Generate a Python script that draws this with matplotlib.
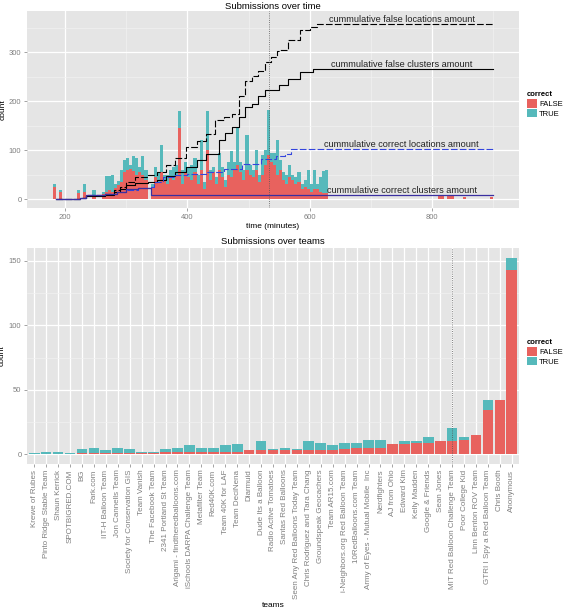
import numpy as np
import matplotlib
matplotlib.use("Agg")
import matplotlib.pyplot as plt
from matplotlib.patches import Patch

plt.rcParams['font.family'] = ['Liberation Sans', 'DejaVu Sans']

# --- time histogram (5 minute bins, left edges) ---
bin_start = [180, 185, 190, 195, 200, 205, 210, 215, 220, 225, 230, 235, 240, 245, 250, 255,
             260, 265, 270, 275, 280, 285, 290, 295, 300, 305, 310, 315, 320, 325, 330, 335,
             340, 345, 350, 355, 360, 365, 370, 375, 380, 385, 390, 395, 400, 405, 410, 415,
             420, 425, 430, 435, 440, 445, 450, 455, 460, 465, 470, 475, 480, 485, 490, 495,
             500, 505, 510, 515, 520, 525, 530, 535, 540, 545, 550, 555, 560, 565, 570, 575,
             580, 585, 590, 595, 600, 605, 610, 615, 620, 625,
             810, 815, 825, 830, 850, 895]
bin_false = [25, 0, 15, 0, 0, 0, 0, 0, 12, 0, 15, 0, 0, 5, 0, 0,
             10, 15, 18, 15, 22, 28, 35, 55, 60, 62, 58, 50, 55, 50, 40, 0,
             25, 45, 35, 55, 40, 30, 45, 40, 50, 145, 30, 55, 45, 40, 55, 30,
             60, 20, 100, 40, 55, 30, 60, 45, 25, 50, 45, 60, 70, 55, 40, 60,
             50, 45, 60, 35, 50, 70, 90, 75, 70, 50, 60, 40, 30, 45, 40, 30,
             35, 20, 25, 20, 15, 20, 20, 15, 12, 12,
             7, 7, 7, 7, 5, 5]
bin_true = [5, 0, 4, 0, 0, 0, 0, 0, 6, 0, 15, 0, 0, 14, 0, 0,
            4, 33, 30, 34, 8, 10, 25, 25, 25, 8, 30, 35, 10, 38, 20, 0,
            5, 20, 20, 55, 10, 20, 15, 25, 20, 35, 30, 20, 20, 30, 30, 20,
            60, 15, 80, 20, 10, 15, 35, 20, 15, 25, 54, 15, 75, 20, 20, 70,
            20, 15, 40, 15, 40, 30, 92, 20, 25, 70, 20, 15, 20, 25, 10, 15,
            20, 10, 15, 40, 15, 40, 10, 30, 45, 48,
            1, 1, 1, 1, 0, 0]

# --- cumulative curves ---
false_loc_t = [185, 225, 235, 265, 280, 290, 300, 315, 335, 350, 365, 380, 398, 415, 430, 446,
               460, 473, 485, 495, 506, 515, 527, 537, 546, 551, 565, 584, 600, 612, 900]
false_loc_v = [0, 3, 8, 10, 18, 25, 36, 45, 50, 55, 70, 85, 107, 118, 133, 161,
               168, 174, 210, 242, 252, 262, 279, 290, 302, 305, 325, 345, 352, 358, 358]
false_clu_t = [185, 225, 235, 265, 280, 290, 300, 315, 335, 350, 365, 380, 398, 415, 430, 451,
               462, 473, 485, 495, 506, 515, 527, 549, 565, 584, 606, 900]
false_clu_v = [0, 2, 6, 8, 14, 20, 28, 33, 36, 40, 48, 55, 66, 80, 93, 120,
               135, 147, 168, 188, 195, 210, 222, 232, 245, 260, 266, 266]
corr_loc_t = [185, 225, 235, 265, 285, 300, 320, 340, 345, 360, 380, 400, 430, 460, 490,
              520, 545, 560, 570, 900]
corr_loc_v = [0, 3, 8, 10, 14, 18, 22, 24, 35, 45, 50, 52, 56, 62, 72,
              82, 88, 93, 102, 102]
corr_clu_t = [185, 225, 235, 265, 285, 300, 320, 340, 900]
corr_clu_v = [0, 3, 8, 10, 15, 20, 22, 9, 9]

curve_labels = ['cummulative false locations amount', 'cummulative false clusters amount',
                'cummulative correct locations amount', 'cummulative correct clusters amount']

# --- teams ---
teams = ['Krewe of Rubes', 'Pinto Ridge Stable Team', 'Shaun Kerrick', 'SPOTBIGRED.COM', 'BG',
         'Fark.com', 'IIT-H Balloon Team', 'Jon Cannells Team', 'Society for Conservation GIS',
         'Team Vanish', 'The Facebook Team', '2341 Portland St Team',
         'Arigami - findtheredballoons.com', 'iSchools DARPA Challenge Team', 'Metafilter Team',
         'Red40K.com', 'Team 40K for LAF', 'Team DeciNena', 'Diarmuid', 'Dude Its a Balloon',
         'Radio Active Tomatoes', 'Santas Red Balloons', 'Seen Any Red Balloons Today Team',
         'Chris Rodriguez and Tara Chang', 'Groundspeak Geocachers', 'Team AR15.com',
         'i-Neighbors.org Red Balloon Team', '10RedBalloons.com Team',
         'Army of Eyes - Mutual Mobile  Inc', 'Nerdfighters', 'AJ from Ohio', 'Edward Kim',
         'Kelly Madden', 'Google & Friends', 'Sean Jones', 'MIT Red Balloon Challenge Team',
         'Poor College Kid', 'Linn Benton ROV Team', 'GTRI I Spy a Red Balloon Team',
         'Chris Booth', 'Anonymous']
team_false = [0, 0, 0, 0, 1, 1, 1, 1, 1, 1, 1, 2, 2, 2, 2, 2, 2, 2, 3, 3, 3, 3, 3, 3, 3, 3,
              4, 5, 5, 5, 8, 8, 9, 9, 10, 10, 11, 15, 34, 42, 143]
team_true = [1, 2, 2, 1, 3, 4, 2, 4, 3, 1, 1, 2, 3, 5, 3, 3, 5, 6, 0, 7, 1, 2, 1, 7, 6, 4,
             5, 4, 6, 6, 0, 2, 1, 4, 0, 10, 2, 0, 8, 0, 9]

RED = '#E8625E'
TEAL = '#56B9BB'
BG = '#E5E5E5'


def ggplot_axes(ax):
    ax.set_facecolor(BG)
    for s in ax.spines.values():
        s.set_visible(False)
    ax.grid(which='major', color='white', linewidth=0.9)
    ax.grid(which='minor', color='#F2F2F2', linewidth=0.45)
    ax.set_axisbelow(True)
    ax.tick_params(which='major', length=2.5, width=0.5, color='#7F7F7F',
                   labelsize=5.5, labelcolor='#7F7F7F', pad=1.5)
    ax.tick_params(which='minor', length=0)


fig = plt.figure(figsize=(5.63, 6.13), dpi=100)

# ---------------- top: submissions over time ----------------
ax1 = fig.add_axes([27 / 563, 1 - 208 / 613, 492 / 563, 197 / 613])
ggplot_axes(ax1)
ax1.bar(bin_start, bin_false, width=5, align='edge', color=RED, linewidth=0)
ax1.bar(bin_start, bin_true, width=5, align='edge', bottom=bin_false, color=TEAL, linewidth=0)

ax1.plot(false_loc_t, false_loc_v, drawstyle='steps-post', color='black', lw=0.8,
         dashes=(6, 2))
ax1.plot(false_clu_t, false_clu_v, drawstyle='steps-post', color='black', lw=0.8)
ax1.plot(corr_loc_t, corr_loc_v, drawstyle='steps-post', color='#3344DD', lw=0.8,
         dashes=(6, 2))
ax1.plot(corr_clu_t, corr_clu_v, drawstyle='steps-post', color='#3A2FA0', lw=0.9)
ax1.axvline(533, color='#555555', lw=0.6, ls=':')

label_y = [false_loc_v[-1], false_clu_v[-1], corr_loc_v[-1], corr_clu_v[-1]]
for txt, yv in zip(curve_labels, label_y):
    ax1.text(750, yv, txt, ha='center', va='bottom', fontsize=6.6, color='#222222')

ax1.set_xlim(138, 942)
ax1.set_ylim(-18, 384)
ax1.set_xticks([200, 400, 600, 800])
ax1.set_xticks([300, 500, 700, 900], minor=True)
ax1.set_yticks([0, 100, 200, 300])
ax1.set_yticks([50, 150, 250, 350], minor=True)
ax1.set_xlabel('time (minutes)', fontsize=6, labelpad=2)
ax1.set_ylabel('count', fontsize=6, labelpad=2)
ax1.set_title('Submissions over time', fontsize=6.8, pad=1)

handles = [Patch(facecolor=RED, label='FALSE'), Patch(facecolor=TEAL, label='TRUE')]
leg1 = fig.legend(handles=handles, title='correct', loc='upper left',
                  bbox_to_anchor=(524 / 563, 1 - 88 / 613), frameon=False, fontsize=5.5,
                  title_fontsize=5.5, handlelength=1.3, handleheight=1.3, handletextpad=0.3,
                  labelspacing=0.15, borderaxespad=0)
leg1.get_title().set_fontweight('bold')
leg1._legend_box.align = 'left'

# ---------------- bottom: submissions over teams ----------------
ax2 = fig.add_axes([27 / 563, 1 - 464 / 613, 492 / 563, 216 / 613])
ggplot_axes(ax2)
xpos = np.arange(len(teams))
ax2.bar(xpos, team_false, width=0.9, color=RED, linewidth=0)
ax2.bar(xpos, team_true, width=0.9, bottom=team_false, color=TEAL, linewidth=0)
ax2.axvline(teams.index('MIT Red Balloon Challenge Team'), color='#555555', lw=0.6, ls=':')
ax2.set_xlim(-0.6, len(teams) - 0.4)
ax2.set_ylim(-7.6, 160)
ax2.set_xticks(xpos)
ax2.set_xticklabels(teams, rotation=90, fontsize=5.8)
ax2.set_yticks([0, 50, 100, 150])
ax2.set_yticks([25, 75, 125], minor=True)
ax2.set_xlabel('teams', fontsize=6, labelpad=2)
ax2.set_ylabel('count', fontsize=6, labelpad=2)
ax2.set_title('Submissions over teams', fontsize=6.8, pad=3)

leg2 = fig.legend(handles=handles, title='correct', loc='upper left',
                  bbox_to_anchor=(524 / 563, 1 - 336 / 613), frameon=False, fontsize=5.5,
                  title_fontsize=5.5, handlelength=1.3, handleheight=1.3, handletextpad=0.3,
                  labelspacing=0.15, borderaxespad=0)
leg2.get_title().set_fontweight('bold')
leg2._legend_box.align = 'left'

fig.savefig('out.png', dpi=100)
